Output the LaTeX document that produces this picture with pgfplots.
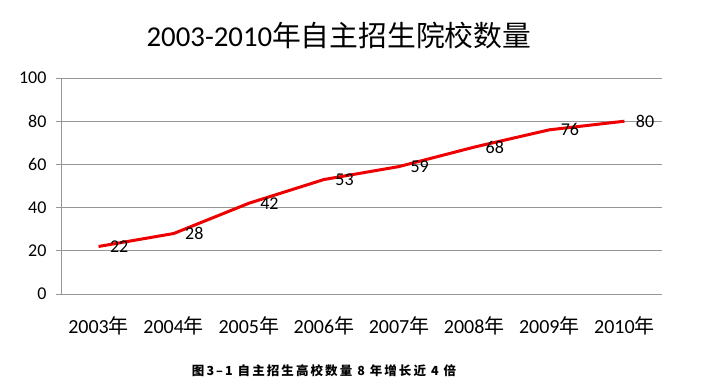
\documentclass[border=0pt]{standalone}
\usepackage{pgfplots}
\pgfplotsset{compat=1.18}
\usepackage{fontspec}
\setmainfont{Carlito}
\newfontfamily\cjk{Noto Sans CJK SC}
\definecolor{gridc}{RGB}{150,150,150}
\definecolor{linered}{RGB}{238,0,0}
\begin{document}
\begin{tikzpicture}[x=1pt,y=1pt]
\path[use as bounding box] (0,0) rectangle (704,391);
\begin{axis}[
  at={(61pt,97pt)}, anchor=south west,
  scale only axis, width=601pt, height=216pt,
  xmin=-0.5, xmax=7.5, ymin=0, ymax=100,
  axis x line*=bottom, axis y line*=left,
  axis line style={gridc, line width=0.8pt},
  xtick={0,...,7},
  xticklabels={2003{\cjk 年},2004{\cjk 年},2005{\cjk 年},2006{\cjk 年},2007{\cjk 年},2008{\cjk 年},2009{\cjk 年},2010{\cjk 年}},
  x tick style={draw=none},
  extra x ticks={-0.5,0.5,...,7.5},
  extra x tick labels={},
  extra x tick style={tick align=outside, major tick length=6pt, tick style={gridc, line width=0.8pt}, grid=none},
  ytick={0,20,...,100},
  ymajorgrids,
  grid style={gridc, line width=0.8pt},
  y tick style={gridc, line width=0.8pt},
  tick align=outside, major tick length=5pt,
  ticklabel style={text=black},
  yticklabel style={font=\fontsize{18}{21}\selectfont, xshift=-6pt},
  xticklabel style={font=\fontsize{20}{23}\selectfont, yshift=-14pt},
  /pgf/number format/assume math mode=true,
  clip=false,
  nodes near coords,
  every node near coord/.append style={anchor=west, xshift=9pt, inner sep=1pt, font=\fontsize{18}{21}\selectfont, text=black},
]
\addplot[linered, line width=3pt, mark=none] coordinates {
(0,22) (1,28) (2,42) (3,53) (4,59) (5,68) (6,76) (7,80)
};
\end{axis}
\node at (339,356) {\fontsize{28.8}{32}\selectfont 2003-2010{\cjk 年自主招生院校数量}};
\node at (324,20) {\cjk\bfseries\fontsize{12.5}{14}\selectfont 图\,3\,–\,1\, 自\,主\,招\,生\,高\,校\,数\,量\, 8\, 年\,增\,长\,近\, 4\, 倍};
\end{tikzpicture}
\end{document}
